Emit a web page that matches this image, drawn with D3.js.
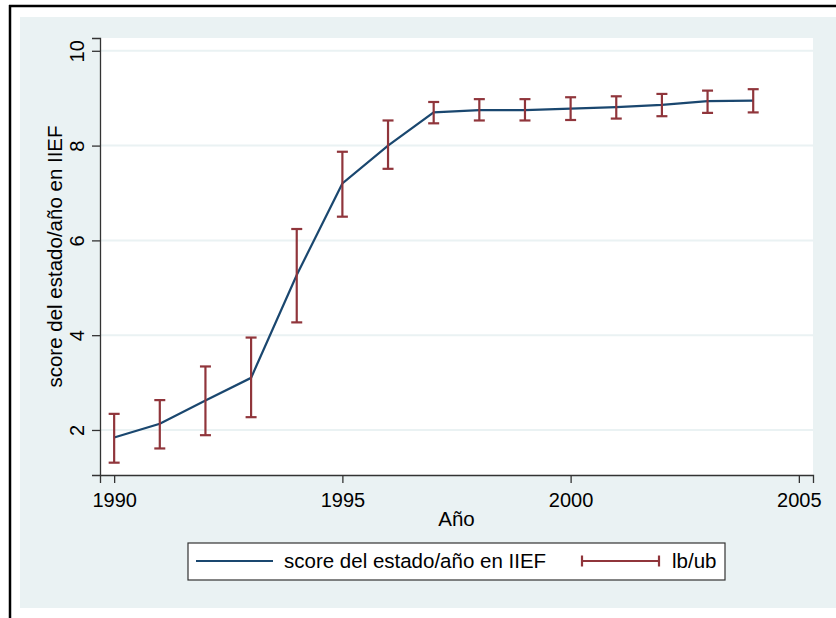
<!DOCTYPE html>
<html>
<head>
<meta charset="utf-8">
<script src="https://cdn.jsdelivr.net/npm/d3@7"></script>
<style>
  body { margin: 0; background: #fff; }
  svg { display: block; font-family: "Liberation Sans", Arial, sans-serif; }
</style>
</head>
<body>
<svg id="chart" width="836" height="618"></svg>
<script>
// values
const years = [1990, 1991, 1992, 1993, 1994, 1995, 1996, 1997, 1998, 1999, 2000, 2001, 2002, 2003, 2004];
const score = [1.84, 2.13, 2.62, 3.10, 5.27, 7.20, 8.00, 8.70, 8.75, 8.75, 8.78, 8.81, 8.86, 8.94, 8.95];
const lb    = [1.31, 1.61, 1.89, 2.27, 4.27, 6.50, 7.51, 8.47, 8.53, 8.53, 8.54, 8.57, 8.62, 8.69, 8.70];
const ub    = [2.34, 2.63, 3.34, 3.95, 6.24, 7.87, 8.53, 8.92, 8.98, 8.98, 9.02, 9.04, 9.09, 9.16, 9.19];
const xTicks = [1990, 1995, 2000, 2005];
const yTicks = [2, 4, 6, 8, 10];
const yTitle = "score del estado/año en IIEF";
const xTitle = "Año";
const legendLabels = ["score del estado/año en IIEF", "lb/ub"];

const lineColor = "#1a476f";
const barColor = "#90353b";
const bgColor = "#eaf2f3";

const svg = d3.select("#chart");

// plot region
const plot = {left: 100, top: 38, right: 813, bottom: 475};

// outer frame + background
svg.append("rect").attr("x", 20).attr("y", 17).attr("width", 830).attr("height", 591).attr("fill", bgColor);
svg.append("line").attr("x1", 10).attr("x2", 10).attr("y1", 5).attr("y2", 618).attr("stroke", "#000").attr("stroke-width", 2.5);
svg.append("line").attr("x1", 9).attr("x2", 836).attr("y1", 6).attr("y2", 6).attr("stroke", "#000").attr("stroke-width", 2.5);

svg.append("rect")
  .attr("x", plot.left).attr("y", plot.top)
  .attr("width", plot.right - plot.left).attr("height", plot.bottom - plot.top)
  .attr("fill", "#fff");

const x = d3.scaleLinear().domain([1989.69, 2005.31]).range([plot.left, plot.right]);
const y = d3.scaleLinear().domain([1.05, 10.27]).range([plot.bottom, plot.top]);

// grid lines
svg.append("g").selectAll("line")
  .data(yTicks)
  .enter().append("line")
    .attr("x1", plot.left).attr("x2", plot.right)
    .attr("y1", d => y(d)).attr("y2", d => y(d))
    .attr("stroke", bgColor).attr("stroke-width", 2);

// y axis
const yAxis = svg.append("g")
  .attr("transform", `translate(${plot.left},0)`)
  .call(d3.axisLeft(y).tickValues(yTicks).tickSize(8).tickFormat(d3.format("d")));
yAxis.select(".domain").attr("stroke", "#333").attr("stroke-width", 1.3);
yAxis.selectAll(".tick line").attr("stroke", "#333").attr("stroke-width", 1.3);
yAxis.selectAll(".tick text")
  .attr("transform", "rotate(-90)")
  .attr("x", 0).attr("y", -16).attr("dy", 0)
  .attr("text-anchor", "middle")
  .attr("font-size", 20).attr("fill", "#000")
  .style("font-family", "Liberation Sans, Arial, sans-serif");

// x axis
const xAxis = svg.append("g")
  .attr("transform", `translate(0,${plot.bottom})`)
  .call(d3.axisBottom(x).tickValues(xTicks).tickSize(8).tickFormat(d3.format("d")));
xAxis.select(".domain").attr("stroke", "#333").attr("stroke-width", 1.3);
xAxis.selectAll(".tick line").attr("stroke", "#333").attr("stroke-width", 1.3);
xAxis.selectAll(".tick text")
  .attr("y", 32).attr("dy", 0)
  .attr("font-size", 20).attr("fill", "#000")
  .style("font-family", "Liberation Sans, Arial, sans-serif");

// axis titles
svg.append("text")
  .attr("transform", `translate(62,${(plot.top + plot.bottom) / 2}) rotate(-90)`)
  .attr("text-anchor", "middle")
  .attr("font-size", 20.5)
  .text(yTitle);

svg.append("text")
  .attr("x", (plot.left + plot.right) / 2).attr("y", 526)
  .attr("text-anchor", "middle")
  .attr("font-size", 20.5)
  .text(xTitle);

// the line
const line = d3.line()
  .x((d, i) => x(years[i]))
  .y(d => y(d));

svg.append("path")
  .datum(score)
  .attr("d", line)
  .attr("fill", "none")
  .attr("stroke", lineColor)
  .attr("stroke-width", 2.2);

// error bars (rcap)
const capW = 5.5;
const bars = svg.append("g").attr("stroke", barColor).attr("stroke-width", 2.2);
years.forEach((yr, i) => {
  const cx = x(yr);
  bars.append("line").attr("x1", cx).attr("x2", cx).attr("y1", y(lb[i])).attr("y2", y(ub[i]));
  bars.append("line").attr("x1", cx - capW).attr("x2", cx + capW).attr("y1", y(lb[i])).attr("y2", y(lb[i]));
  bars.append("line").attr("x1", cx - capW).attr("x2", cx + capW).attr("y1", y(ub[i])).attr("y2", y(ub[i]));
});

// legend
const leg = svg.append("g");
leg.append("rect")
  .attr("x", 188).attr("y", 543).attr("width", 537).attr("height", 37)
  .attr("fill", "#fff").attr("stroke", "#333").attr("stroke-width", 1.2);
const ly = 561;
leg.append("line").attr("x1", 196).attr("x2", 273).attr("y1", ly).attr("y2", ly)
  .attr("stroke", lineColor).attr("stroke-width", 2.2);
leg.append("text").attr("x", 284).attr("y", 568).attr("font-size", 20.5).text(legendLabels[0]);
leg.append("line").attr("x1", 582).attr("x2", 659).attr("y1", ly).attr("y2", ly)
  .attr("stroke", barColor).attr("stroke-width", 2.2);
leg.append("line").attr("x1", 582).attr("x2", 582).attr("y1", ly - capW).attr("y2", ly + capW)
  .attr("stroke", barColor).attr("stroke-width", 2.2);
leg.append("line").attr("x1", 659).attr("x2", 659).attr("y1", ly - capW).attr("y2", ly + capW)
  .attr("stroke", barColor).attr("stroke-width", 2.2);
leg.append("text").attr("x", 672).attr("y", 568).attr("font-size", 20.5).text(legendLabels[1]);
</script>
</body>
</html>
